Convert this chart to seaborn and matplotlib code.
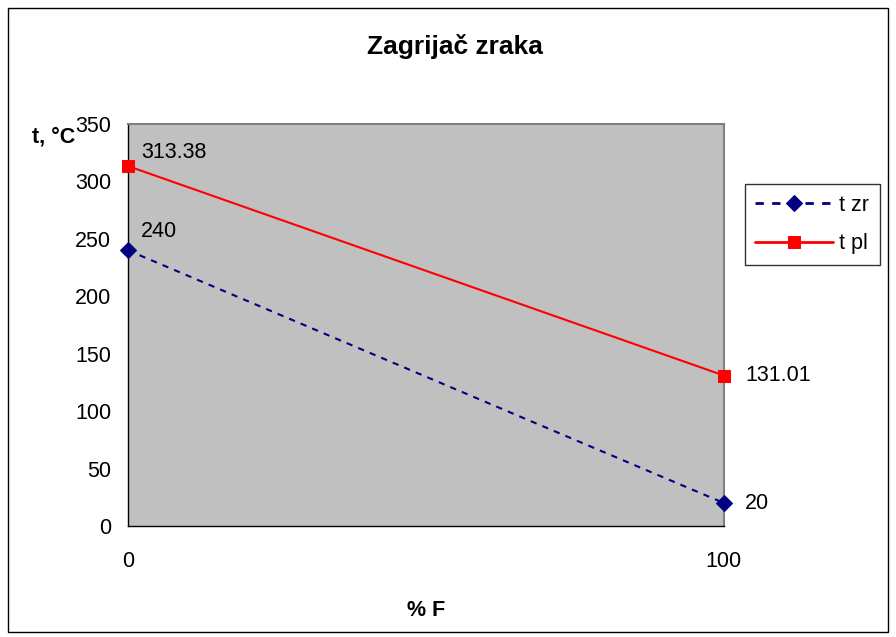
import pandas as pd
import matplotlib.pyplot as plt
import seaborn as sns
from matplotlib.patches import Rectangle

# Data
pct_f = [0, 100]
t_zr = [240, 20]
t_pl = [313.38, 131.01]
y_ticks = [0, 50, 100, 150, 200, 250, 300, 350]

df = pd.DataFrame({"F": pct_f, "t zr": t_zr, "t pl": t_pl})

sns.set_style("white")
plt.rcParams['font.family'] = ['Liberation Sans', 'DejaVu Sans']
plt.rcParams['text.color'] = 'black'
plt.rcParams['axes.labelcolor'] = 'black'

fig = plt.figure(figsize=(8.96, 6.37), dpi=100)
ax = fig.add_axes([0.1429, 0.1743, 0.665, 0.631])
ax.set_facecolor("#C0C0C0")

sns.lineplot(x="F", y="t zr", data=df, ax=ax, color="#000080", marker="D",
             markersize=8.5, markeredgecolor="#000080", linewidth=1.5,
             linestyle=(0, (3, 3)), label="t zr", clip_on=False, zorder=5)
sns.lineplot(x="F", y="t pl", data=df, ax=ax, color="#FF0000", marker="s",
             markersize=8, markeredgecolor="#FF0000", linewidth=1.5,
             label="t pl", clip_on=False, zorder=5)

fs = 15.5
# data labels
ax.annotate("313.38", (pct_f[0], t_pl[0]), xytext=(13, 14), textcoords="offset pixels",
            fontsize=fs, va="center", ha="left")
ax.annotate("240", (pct_f[0], t_zr[0]), xytext=(13, 19), textcoords="offset pixels",
            fontsize=fs, va="center", ha="left")
ax.annotate("131.01", (pct_f[1], t_pl[1]), xytext=(21, 0), textcoords="offset pixels",
            fontsize=fs, va="center", ha="left", annotation_clip=False)
ax.annotate("20", (pct_f[1], t_zr[1]), xytext=(21, 0), textcoords="offset pixels",
            fontsize=fs, va="center", ha="left", annotation_clip=False)

ax.set_xlim(0, 100)
ax.set_ylim(0, 350)
ax.set_xticks(pct_f)
ax.set_yticks(y_ticks)
ax.tick_params(axis="both", labelsize=fs, direction="out", length=6, width=1,
               colors="black")
ax.tick_params(axis="x", pad=12)
ax.tick_params(axis="y", pad=6)

for side in ["left", "bottom"]:
    ax.spines[side].set_color("black")
    ax.spines[side].set_linewidth(1)
for side in ["top", "right"]:
    ax.spines[side].set_color("#808080")
    ax.spines[side].set_linewidth(1.5)

ax.set_xlabel("% F", fontsize=fs, fontweight="bold", labelpad=20)
ax.set_ylabel("")
fig.text(0.036, 0.785, "t, °C", fontsize=fs, fontweight="bold", ha="left", va="center")
fig.text(0.508, 0.927, "Zagrijač zraka", fontsize=19, fontweight="bold", ha="center", va="center")

leg = ax.legend(loc="upper left", bbox_to_anchor=(0.831, 0.711), bbox_transform=fig.transFigure,
                fontsize=fs, frameon=True, fancybox=False, edgecolor="black",
                handlelength=3.6, borderaxespad=0, labelspacing=0.8, handletextpad=0.3,
                borderpad=0.5)
leg.get_frame().set_linewidth(1)
for line in leg.get_lines():
    line.set_linewidth(2)

# figure border
fig.patches.append(Rectangle((0.009, 0.008), 0.982, 0.98, transform=fig.transFigure,
                             fill=False, edgecolor="black", linewidth=1))

fig.savefig("out.png", dpi=100)
